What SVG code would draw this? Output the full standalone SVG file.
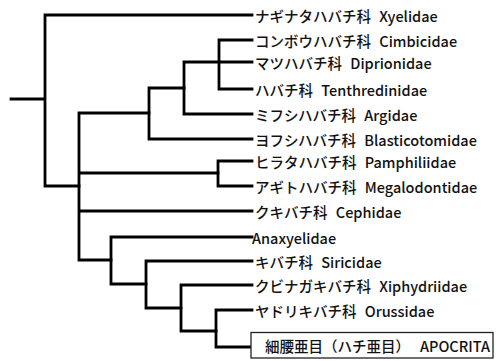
<svg xmlns="http://www.w3.org/2000/svg" width="500" height="361" viewBox="0 0 500 361">
<style>
.e{fill:none;stroke:#000;stroke-width:2.8;stroke-linecap:square}
.t{font-family:"Noto Sans CJK JP","Noto Sans",sans-serif;font-size:14.5px;font-weight:500;fill:#111}
.b{fill:#fff;stroke:#222;stroke-width:1.3}
</style>
<rect width="500" height="361" fill="#fff"/>
<g id="connectors">
<path class="e" d="M11,99H45M45,15V186M45,15H252M45,186H79"/>
<path class="e" d="M79,113V260M79,113H149M79,173H218M79,211H252M79,260H111"/>
<path class="e" d="M149,88V139M149,88H184M149,139H252"/>
<path class="e" d="M184,62V114M184,62H252M184,114H252"/>
<path class="e" d="M219,40V89M219,40H252M219,89H252"/>
<path class="e" d="M218,161V186M218,161H252M218,186H252"/>
<path class="e" d="M111,237V284M111,237H252M111,284H146"/>
<path class="e" d="M146,261V308M146,261H252M146,308H181"/>
<path class="e" d="M181,285V331M181,285H252M181,331H216"/>
<path class="e" d="M216,310V347M216,310H252M216,347H251"/>
</g>
<g id="xyelidae"><text class="t" x="255" y="22">ナギナタハバチ科 <tspan dx="5">Xyelidae</tspan></text></g>
<g id="cimbicidae"><text class="t" x="255" y="47">コンボウハバチ科 <tspan dx="5">Cimbicidae</tspan></text></g>
<g id="diprionidae"><text class="t" x="255" y="69">マツハバチ科 <tspan dx="5">Diprionidae</tspan></text></g>
<g id="tenthredinidae"><text class="t" x="255" y="96">ハバチ科 <tspan dx="5">Tenthredinidae</tspan></text></g>
<g id="argidae"><text class="t" x="255" y="121">ミフシハバチ科 <tspan dx="5">Argidae</tspan></text></g>
<g id="blasticotomidae"><text class="t" x="255" y="146">ヨフシハバチ科 <tspan dx="5">Blasticotomidae</tspan></text></g>
<g id="pamphiliidae"><text class="t" x="255" y="168">ヒラタハバチ科 <tspan dx="5">Pamphiliidae</tspan></text></g>
<g id="megalodontidae"><text class="t" x="255" y="193">アギトハバチ科 <tspan dx="5">Megalodontidae</tspan></text></g>
<g id="cephidae"><text class="t" x="255" y="218">クキバチ科 <tspan dx="5">Cephidae</tspan></text></g>
<g id="anaxyelidae"><text class="t" x="252" y="244">Anaxyelidae</text></g>
<g id="siricidae"><text class="t" x="255" y="268">キバチ科 <tspan dx="5">Siricidae</tspan></text></g>
<g id="xiphydriidae"><text class="t" x="255" y="292">クビナガキバチ科 <tspan dx="5">Xiphydriidae</tspan></text></g>
<g id="orussidae"><text class="t" x="255" y="317">ヤドリキバチ科 <tspan dx="5">Orussidae</tspan></text></g>
<g id="apocrita">
<rect class="b" x="251" y="332.5" width="242" height="25.5"/>
<text class="t" x="265" y="352">細腰亜目（ハチ亜目）<tspan x="420">APOCRITA</tspan></text>
</g>
</svg>
